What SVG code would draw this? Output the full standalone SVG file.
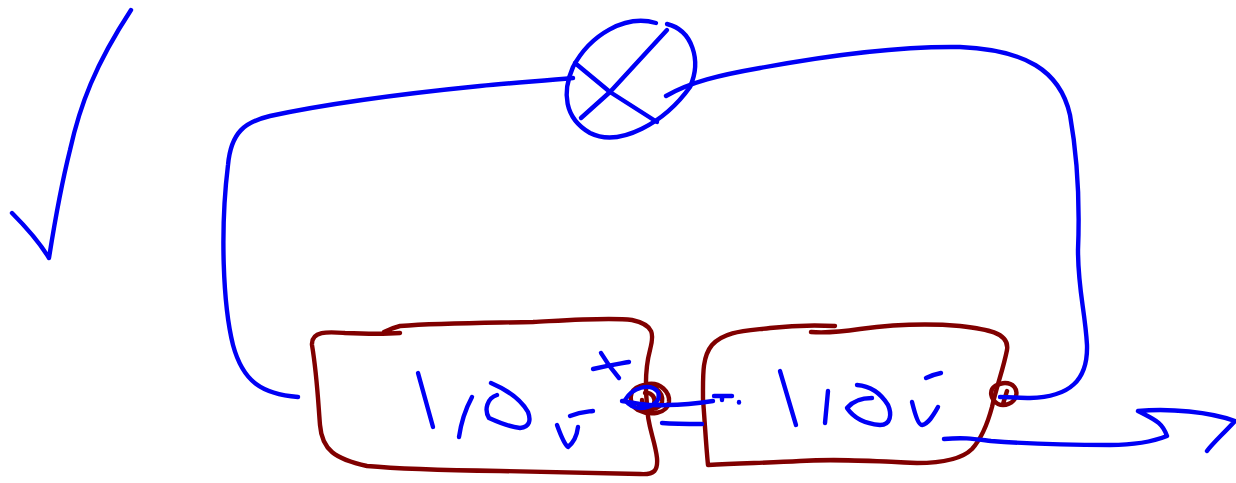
<svg xmlns="http://www.w3.org/2000/svg" width="1236" height="483" viewBox="0 0 1236 483">
<style>
path{fill:none;stroke-linecap:round;stroke-linejoin:round}
.b{stroke:#0000f5;stroke-width:4.4}
.t{stroke:#0000f5;stroke-width:4.4}
.r{stroke:#800000;stroke-width:4.4}
</style>
<rect width="1236" height="483" fill="#fff"/>
<g id="check"><path class="b" d="M131 10C95 65 80 105 70 150C60 190 55 220 49 258C38 240 25 226 12 213"/></g>
<g id="lamp">
<path class="b" d="M656 23C625 14 590 35 573 67C562 92 564 118 590 133C620 148 665 122 690 87C702 60 692 30 667 24"/>
<path class="b" d="M667 30L610 92L581 118"/>
<path class="b" d="M575 63L610 92L657 122"/>
</g>
<g id="battery-1">
<path class="r" d="M400 333C385 334 370 334 345 333C330 332 311 330 312 345C317 375 318 400 320 425C322 450 335 459 367 466C400 469 433 470 500 471C560 472 600 473 640 474C655 475 658 470 657 458C655 440 647 425 647 405C645 385 646 365 650 350C654 335 655 325 632 320C610 317 570 320 533 322C480 323 440 323 400 326C392 328 388 330 384 332"/>
<path class="r" d="M648 384C660 382 670 392 669 402C667 414 650 416 638 410C628 404 628 390 640 386C652 382 664 392 662 402C660 410 646 412 638 404"/>
<path class="r" d="M645 393C652 392 656 398 654 404C650 408 642 406 642 400"/>
</g>
<g id="battery-2">
<path class="r" d="M835 326C815 325 796 325 770 328C745 331 725 331 712 345C702 357 703 375 703 399C705 425 706 445 708 465C740 463 768 463 800 461C830 459 860 460 917 463C945 463 963 458 972 449C982 438 988 422 992 407C997 385 1003 370 1007 350C1010 332 985 329 960 326C925 323 890 325 860 329C840 332 825 333 811 332"/>
<path class="r" d="M1005 383C1013 383 1018 389 1016 396C1014 403 1005 407 998 404C990 399 989 390 995 386C999 384 1002 383 1005 383M1007 391L1003 404"/>
</g>
<g id="connectors">
<path class="b" d="M298 397C262 394 243 382 233 345C223 305 220 230 228 165C231 132 245 122 270 116C330 103 400 94 480 86C510 83 540 81 573 78"/>
<path class="b" d="M666 96C690 82 720 75 760 68C830 55 900 46 960 47C1025 50 1060 70 1070 115C1078 160 1080 200 1078 250C1078 290 1085 310 1087 345C1088 380 1070 397 1030 398C1020 398 1010 397 1000 397"/>
<path class="b" d="M944 439C965 437 975 439 991 441C1030 444 1076 445 1110 445C1135 445 1152 442 1167 436C1162 422 1155 420 1138 411C1170 408 1210 412 1235 421C1220 437 1212 444 1207 451"/>
<path class="b" d="M622 401C640 404 650 406 667 405C685 405 700 403 713 401"/>
<path class="b" d="M625 400C632 388 650 382 658 392C662 402 650 408 640 408C632 408 628 404 625 400"/>
<path class="b" d="M662 423C675 424 690 424 702 424"/>
</g>
<g id="label-1">
<path class="t" d="M418 373L433 427"/>
<path class="t" d="M472 397C465 410 461 423 459 437"/>
<path class="t" d="M497 395C487 398 484 410 489 418C500 423 510 427 520 428C530 427 531 420 528 412C520 398 505 389 491 383"/>
<path class="t" d="M557 425C561 436 565 445 568 447C573 443 577 435 578 427"/>
<path class="t" d="M570 416C580 412 585 412 593 411"/>
<path class="t" d="M593 369C610 365 618 364 629 362"/>
<path class="t" d="M601 353C608 365 613 371 619 378"/>
</g>
<g id="label-2">
<path class="t" d="M780 371L796 425"/>
<path class="t" d="M828 391L825 423"/>
<path class="t" d="M872 398C860 398 852 402 847 408C855 420 868 424 880 425C891 425 892 414 888 405C880 392 870 386 857 385"/>
<path class="t" d="M912 402C916 418 919 425 922 425C928 424 933 416 938 407"/>
<path class="t" d="M926 378C932 375 936 374 941 373"/>
<path class="t" d="M714 396L732 396"/>
<path class="t" d="M722 398L722 400"/>
<path class="t" d="M739 402L739 402.5"/>
</g>
</svg>
